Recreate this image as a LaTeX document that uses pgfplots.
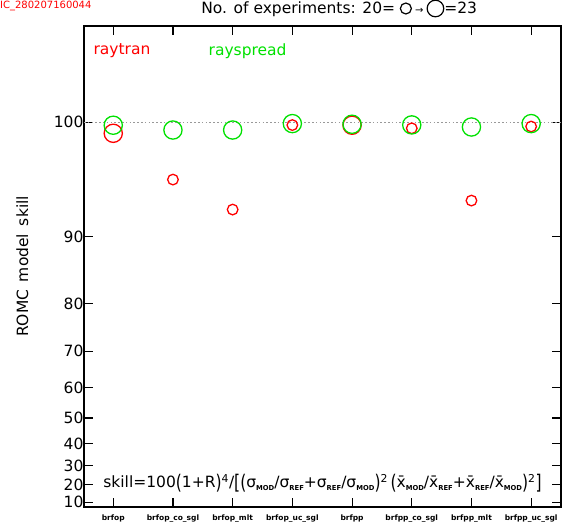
\documentclass[border=0pt]{standalone}
\usepackage{fontspec}
\setmainfont{DejaVu Sans}
\usepackage{graphicx}
\usepackage{pgfplots}
\usepackage{pgfplotstable}
\pgfplotsset{compat=1.18}

\definecolor{romcred}{RGB}{255,0,0}
\definecolor{romcgreen}{RGB}{0,225,0}

% subscripts like MOD / REF in the skill formula
\newcommand{\sub}[1]{\raisebox{-0.35ex}{\fontsize{6.8}{7}\selectfont\bfseries #1}}
\newcommand{\bp}[1]{\raisebox{-0.1em}{\scalebox{1}[1.3]{#1}}}

% x = category index, ry/rn = raytran skill / no. of experiments, gy/gn = rayspread
\pgfplotstableread{
x  ry     rn  gy     gn
0  99.31  23  99.82  23
1  95.85  20  99.52  23
2  93.03  20  99.52  23
3  99.83  20  99.92  23
4  99.82  23  99.88  23
5  99.63  20  99.84  23
6  93.93  20  99.71  23
7  99.74  20  99.92  23
}\skilldata

% circle radius grows with the number of experiments (meta column)
\pgfplotsset{nexp circles/.style={
    scatter, only marks, mark=o, line width=1.3pt,
    point meta=explicit symbolic,
    scatter/@pre marker code/.code={\pgfmathsetmacro\msize{5.3+(\pgfplotspointmeta-20)*1.27}\scope[mark size=\msize pt]},
    scatter/@post marker code/.code={\endscope}}}

\begin{document}
\begin{tikzpicture}
\useasboundingbox (-84pt,-21pt) rectangle (485pt,507pt);
\begin{axis}[
    at={(0,0)}, anchor=south west,
    scale only axis,
    width=477pt, height=481pt,
    xmin=-0.49, xmax=7.5,
    ymin=7.1, ymax=104.42,
    y coord trafo/.code={\pgfmathparse{-ln(110-#1)}},
    y coord inv trafo/.code={\pgfmathparse{110-exp(-#1)}},
    xtick={0,1,2,3,4,5,6,7},
    xticklabels={brfop,brfop\_co\_sgl,brfop\_mlt,brfop\_uc\_sgl,brfpp,brfpp\_co\_sgl,brfpp\_mlt,brfpp\_uc\_sgl},
    ytick={10,20,30,40,50,60,70,80,90,100},
    yticklabels={10,20,30,40,50,60,70,80,90,100},
    minor tick num=0,
    tick align=inside,
    tick pos=both,
    major tick length=9pt,
    major tick style={black, line width=1.1pt},
    axis line style={black, line width=1.2pt},
    /pgf/number format/assume math mode=true,
    yticklabel style={font=\fontsize{15.5}{17}\selectfont, xshift=3pt},
    xticklabel style={font=\fontsize{7.5}{8}\selectfont\bfseries, yshift=-4pt},
    ylabel={ROMC\hspace{0.5em}model\hspace{0.5em}skill},
    ylabel style={at={(axis description cs:-0.129,0.5)}, anchor=center, font=\fontsize{15.5}{17}\selectfont},
    title={No. of experiments: 20=\hspace{0.3em}\tikz[baseline=-5.5pt]\draw[line width=1.2pt] (0,0) circle (5.5pt);\hspace{0.2em}{\fontsize{10}{10}\selectfont →}\hspace{0.2em}\tikz[baseline=-5.5pt]\draw[line width=1.2pt] (0,0) circle (8.3pt);=23},
    title style={at={(axis description cs:0.535,1)}, anchor=base, yshift=6pt, font=\fontsize{15.5}{17}\selectfont},
    clip=false,
]
\addplot[gray!80, line width=1.2pt, dash pattern=on 1.6pt off 2.2pt, forget plot]
    coordinates {(-0.49,100) (7.5,100)};

\addplot[nexp circles, color=romcred] table[x=x, y=ry, meta=rn] {\skilldata};
\addplot[nexp circles, color=romcgreen] table[x=x, y=gy, meta=gn] {\skilldata};

\node[text=romcred, font=\fontsize{15.5}{17}\selectfont] at (rel axis cs:0.0797,0.948) {raytran};
\node[text=romcgreen, font=\fontsize{15.5}{17}\selectfont] at (rel axis cs:0.343,0.948) {rayspread};

\node[font=\fontsize{15.5}{17}\selectfont, inner sep=0pt] at (rel axis cs:0.5,0.05)
  {skill=100\bp{(}1+R\bp{)}\textsuperscript{4}/\bp{[}\bp{(}σ\sub{MOD}/σ\sub{REF}+σ\sub{REF}/σ\sub{MOD}\bp{)}\textsuperscript{2}\,\bp{(}\={x}\sub{MOD}/\={x}\sub{REF}+\={x}\sub{REF}/\={x}\sub{MOD}\bp{)}\textsuperscript{2}\bp{]}};
\end{axis}
\node[anchor=north west, inner sep=0pt, text=romcred, font=\fontsize{10}{11}\selectfont] at (-84pt,506pt) {IC\_280207160044};
\end{tikzpicture}
\end{document}
